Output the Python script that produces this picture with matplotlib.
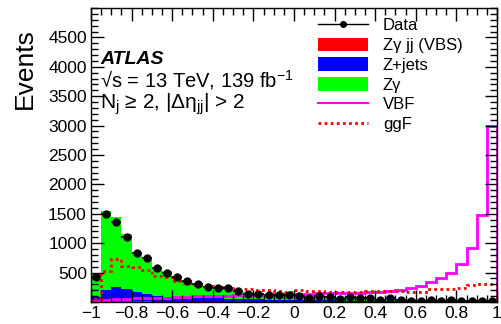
import numpy as np
import matplotlib
matplotlib.use("Agg")
import matplotlib.pyplot as plt
from matplotlib.lines import Line2D
from matplotlib.patches import Patch
from matplotlib.ticker import MultipleLocator, FixedLocator

plt.rcParams['font.family'] = ['Liberation Sans', 'DejaVu Sans']
plt.rcParams['mathtext.fontset'] = 'custom'
plt.rcParams['mathtext.rm'] = 'Liberation Sans'
plt.rcParams['mathtext.it'] = 'Liberation Sans:italic'
plt.rcParams['mathtext.bf'] = 'Liberation Sans:bold'

# 40 bins from -1 to 1
bin_edges = np.linspace(-1, 1, 41)

data_vals = [432, 1495, 1353, 1105, 828, 740, 573, 495, 425, 355,
             300, 263, 234, 234, 180, 139, 139, 122, 127, 127,
             105, 71, 98, 93, 54, 93, 64, 71, 37, 64,
             42, 25, 25, 42, 25, 42, 25, 25, 25, 14]

mc_total = [490, 1540, 1440, 1160, 850, 735, 565, 520, 434, 350,
            300, 265, 240, 225, 195, 165, 145, 130, 125, 115,
            105, 95, 90, 85, 80, 75, 70, 62, 58, 55,
            50, 45, 42, 40, 38, 35, 33, 30, 28, 25]

zjets_vals = [82, 196, 252, 208, 167, 128, 99, 82, 75, 70,
              65, 60, 55, 50, 45, 40, 38, 35, 32, 30,
              28, 26, 24, 22, 20, 19, 18, 17, 16, 15,
              14, 13, 12, 12, 11, 10, 10, 9, 9, 8]

vbs_vals = [6, 9, 10, 10, 9, 9, 8, 8, 8, 7,
            7, 7, 6, 6, 6, 6, 5, 5, 5, 5,
            5, 5, 5, 4, 4, 4, 4, 4, 4, 4,
            3, 3, 3, 3, 3, 3, 3, 3, 3, 3]

vbf_vals = [15, 40, 45, 55, 60, 65, 70, 75, 80, 90,
            95, 100, 105, 110, 115, 118, 120, 125, 130, 135,
            140, 142, 145, 148, 150, 155, 160, 165, 175, 185,
            205, 240, 280, 337, 408, 490, 650, 915, 1480, 2990]

ggf_vals = [55, 525, 735, 605, 595, 540, 440, 420, 350, 320,
            293, 264, 252, 241, 213, 213, 205, 196, 184, 165,
            200, 185, 185, 175, 165, 165, 170, 180, 185, 190,
            190, 170, 170, 220, 225, 225, 230, 290, 305, 310]

x_ticks = [-1, -0.8, -0.6, -0.4, -0.2, 0, 0.2, 0.4, 0.6, 0.8, 1]
x_ticklabels = ['\u22121', '\u22120.8', '\u22120.6', '\u22120.4', '\u22120.2',
                '0', '0.2', '0.4', '0.6', '0.8', '1']
y_ticks = [500, 1000, 1500, 2000, 2500, 3000, 3500, 4000, 4500]

fig = plt.figure(figsize=(5.02, 3.24), dpi=100)
ax = fig.add_axes([91 / 502, 1 - 302 / 324, (497 - 91) / 502, (302 - 8) / 324])

vbs = np.array(vbs_vals, dtype=float)
zj = np.array(zjets_vals, dtype=float)
tot = np.array(mc_total, dtype=float)

# stacked backgrounds: VBS at bottom, Z+jets, then Z gamma on top
ax.stairs(vbs, bin_edges, baseline=0, fill=True, color='#ff0000', lw=0)
ax.stairs(vbs + zj, bin_edges, baseline=vbs, fill=True, color='#0000ff', lw=0)
ax.stairs(tot, bin_edges, baseline=vbs + zj, fill=True, color='#00ff00', lw=0)

# signal shapes
ax.stairs(vbf_vals, bin_edges, baseline=0, color='#ff00ff', lw=2)
ax.stairs(ggf_vals, bin_edges, baseline=0, color='#ff0000', lw=2, linestyle=(0, (1, 1.2)))

# data
centers = 0.5 * (bin_edges[:-1] + bin_edges[1:])
ax.errorbar(centers, data_vals, xerr=0.025, fmt='o', color='black',
            markersize=5, elinewidth=1.2, capsize=0)

ax.set_xlim(-1, 1)
ax.set_ylim(0, 5000)

ax.xaxis.set_major_locator(FixedLocator(x_ticks))
ax.set_xticklabels(x_ticklabels)
ax.xaxis.set_minor_locator(MultipleLocator(0.05))
ax.yaxis.set_major_locator(FixedLocator(y_ticks))
ax.yaxis.set_minor_locator(MultipleLocator(100))
ax.tick_params(which='both', direction='in', top=True, right=True, labelsize=12.5, pad=3)
ax.tick_params(which='major', length=9, width=1)
ax.tick_params(which='minor', length=5, width=1)
for s in ax.spines.values():
    s.set_linewidth(1)

fig.text(25 / 502, 1 - 69 / 324, 'Events', rotation=90, ha='center', va='center', fontsize=19)

ax.text(100 / 502, 1 - 59 / 324, 'ATLAS', transform=fig.transFigure, fontsize=14,
        fontweight='bold', fontstyle='italic', va='center', ha='left')
ax.text(100 / 502, 1 - 80 / 324, '\u221as = 13 TeV, 139 fb$^{-1}$', transform=fig.transFigure,
        fontsize=14.5, va='center', ha='left')
ax.text(100 / 502, 1 - 104 / 324, 'N$_{\\mathrm{j}}$ \u2265 2, |\u0394\u03b7$_{\\mathrm{jj}}$| > 2',
        transform=fig.transFigure, fontsize=15, va='center', ha='left')

handles = [
    Line2D([], [], color='black', marker='o', markersize=4, lw=1),
    Patch(facecolor='#ff0000', edgecolor='none'),
    Patch(facecolor='#0000ff', edgecolor='none'),
    Patch(facecolor='#00ff00', edgecolor='none'),
    Line2D([], [], color='#ff00ff', lw=1.5),
    Line2D([], [], color='#ff0000', lw=2, linestyle=(0, (1, 1.2))),
]
labels = ['Data', 'Z\u03b3 jj (VBS)', 'Z+jets', 'Z\u03b3', 'VBF', 'ggF']
fig.legend(handles, labels, loc='upper left', bbox_to_anchor=(318 / 502, 1 - 18 / 324),
           frameon=False, fontsize=12, borderpad=0, borderaxespad=0,
           handlelength=3.0, handleheight=0.85, handletextpad=0.9, labelspacing=0.26)

fig.savefig('out.png', dpi=100)
